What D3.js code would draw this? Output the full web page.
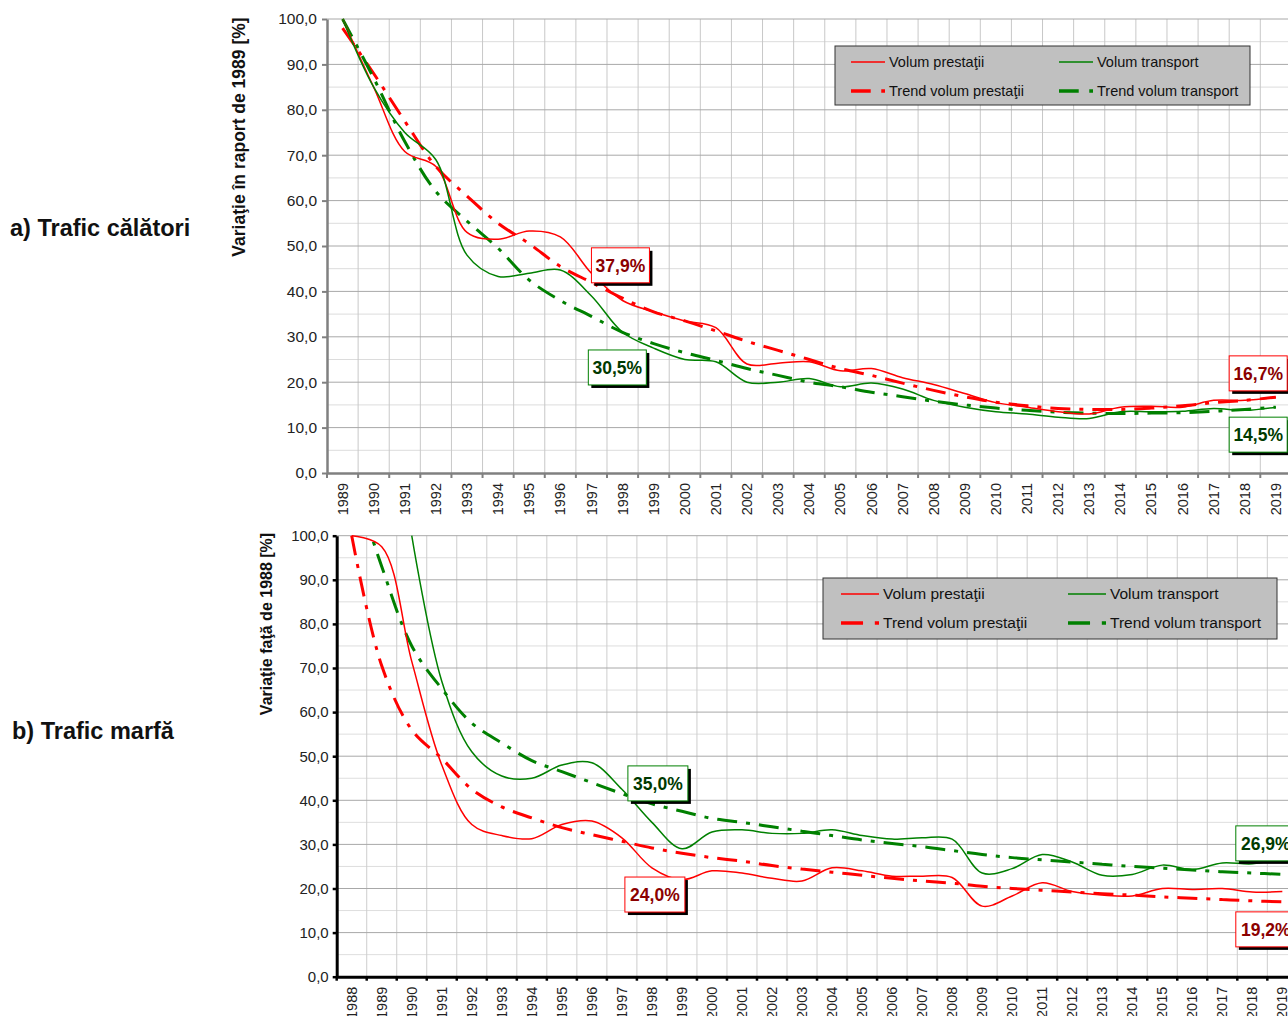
<!DOCTYPE html>
<html>
<head>
<meta charset="utf-8">
<script src="https://cdn.jsdelivr.net/npm/d3@7/dist/d3.min.js"></script>
<style>
  body { margin: 0; background: #fff; }
  svg { font-family: "Liberation Sans", Arial, sans-serif; display: block; }
</style>
</head>
<body>
<div id="chart"></div>
<script>
// a) Trafic calatori, 1989 = 100
const yearsA = [1989, 1990, 1991, 1992, 1993, 1994, 1995, 1996, 1997, 1998, 1999, 2000, 2001, 2002, 2003, 2004,
                2005, 2006, 2007, 2008, 2009, 2010, 2011, 2012, 2013, 2014, 2015, 2016, 2017, 2018, 2019];
const prestatiiA = [100, 85, 70.8, 67.5, 53, 51.5, 53.3, 52, 44, 38, 35.5, 33.5, 32, 24, 24.2, 24.5,
                    22.5, 23, 21, 19.5, 17.5, 15.5, 14.5, 13.5, 13, 14.5, 14.7, 14.5, 16, 16, 16.7];
const transportA = [100, 85, 75, 69, 48, 43.3, 44, 44.7, 39, 31, 27.5, 25, 24.5, 20, 20, 20.8,
                    19, 19.8, 18.5, 16, 14.5, 13.5, 13, 12.3, 12, 13.5, 13.5, 13.6, 14.2, 13.8, 14.5];
const trendPrestatiiA = [98, 88, 77.5, 67.5, 61, 55, 50.5, 45.5, 42, 38.5, 35.5, 33.5, 31.3, 29, 27, 25,
                         23, 21.5, 19.8, 18.2, 16.8, 15.6, 14.8, 14.2, 14, 14, 14.3, 14.8, 15.5, 16, 16.7];
const trendTransportA = [100, 87, 73, 62, 55.5, 49.5, 42.5, 38, 34.5, 31, 28.5, 26.5, 24.8, 23, 21.5, 20,
                         19, 17.8, 16.8, 15.8, 15, 14.3, 13.8, 13.4, 13.2, 13.1, 13.2, 13.3, 13.6, 14, 14.5];

// b) Trafic marfa, 1988 = 100
const yearsB = [1988, 1989, 1990, 1991, 1992, 1993, 1994, 1995, 1996, 1997, 1998, 1999, 2000, 2001, 2002, 2003,
                2004, 2005, 2006, 2007, 2008, 2009, 2010, 2011, 2012, 2013, 2014, 2015, 2016, 2017, 2018, 2019];
const prestatiiB = [100, 97.5, 71.5, 48, 34.5, 32, 31.3, 34.5, 35.3, 31.5, 24.7, 22, 24, 23.5, 22.3, 21.7,
                    24.7, 24, 22.8, 22.8, 22.5, 16, 18.3, 21.3, 19.3, 18.5, 18.3, 20, 19.8, 20, 19.2, 19.3];
const transportB = [null, null, 100, 67, 51, 45.5, 45, 48, 48.5, 42.5, 35, 29, 32.8, 33.3, 32.5, 32.5,
                    33.3, 32, 31.2, 31.5, 31.2, 23.5, 24.5, 27.7, 26, 23, 23.2, 25.3, 24.3, 25.8, 25.6, 26.9];
const trendPrestatiiB = [100, 70.5, 56, 49.5, 42.5, 38.5, 36, 33.8, 32.2, 30.7, 29.2, 28, 27, 26.2, 25.2, 24.4,
                         23.7, 23, 22.3, 21.7, 21.2, 20.5, 20, 19.6, 19.2, 18.8, 18.5, 18.1, 17.8, 17.5, 17.2, 17];
const trendTransportB = [114, 93, 75, 65.3, 57.5, 53, 49, 46.5, 44, 41.5, 39.2, 37.5, 35.9, 35, 34, 33,
                         32, 31, 30.2, 29.5, 28.6, 27.7, 27, 26.5, 26, 25.5, 25, 24.6, 24.2, 23.8, 23.5, 23.2];

const legendNames = ["Volum prestaţii", "Volum transport", "Trend volum prestaţii", "Trend volum transport"];

const labelsA = [
  { text: "37,9%", year: 1997.0, value: 49.6, kind: "p" },
  { text: "30,5%", year: 1996.9, value: 27.1, kind: "t" },
  { text: "16,7%", year: 2017.5, value: 25.8, kind: "p" },
  { text: "14,5%", year: 2017.5, value: 12.3, kind: "t" }
];
const labelsB = [
  { text: "35,0%", year: 1997.2, value: 47.8, kind: "t" },
  { text: "24,0%", year: 1997.1, value: 22.6, kind: "p" },
  { text: "26,9%", year: 2017.45, value: 34.2, kind: "t" },
  { text: "19,2%", year: 2017.45, value: 14.7, kind: "p" }
];

const RED = "#ff0000", GREEN = "#008000";
const fmt = v => d3.format(".1f")(v).replace(".", ",");

const svg = d3.select("#chart").append("svg")
  .attr("width", 1288).attr("height", 1016);

function panel(cfg) {
  const g = svg.append("g");
  const n = cfg.years.length;
  const x = d3.scaleBand().domain(cfg.years).range([cfg.left, cfg.left + n * cfg.step]).padding(0);
  const y = d3.scaleLinear().domain([0, 100]).range([cfg.bottom, cfg.top]);
  const right = cfg.left + n * cfg.step;
  const xc = yr => x(cfg.years[0]) + (yr - cfg.years[0] + 0.5) * x.step();

  // grid
  const grid = g.append("g");
  grid.selectAll(".minor").data(d3.range(5, 100, 10)).enter().append("line")
    .attr("x1", cfg.left).attr("x2", right)
    .attr("y1", d => y(d)).attr("y2", d => y(d))
    .attr("stroke", cfg.minorColor).attr("stroke-width", 1);
  grid.selectAll(".vert").data(cfg.years.slice(1)).enter().append("line")
    .attr("x1", d => x(d)).attr("x2", d => x(d))
    .attr("y1", cfg.top).attr("y2", cfg.bottom)
    .attr("stroke", cfg.vertColor).attr("stroke-width", 1);
  grid.selectAll(".major").data(d3.range(10, 101, 10)).enter().append("line")
    .attr("x1", cfg.left).attr("x2", right)
    .attr("y1", d => y(d)).attr("y2", d => y(d))
    .attr("stroke", cfg.majorColor).attr("stroke-width", 1);

  // series
  const clipId = "clip" + cfg.id;
  g.append("clipPath").attr("id", clipId).append("rect")
    .attr("x", cfg.left).attr("y", cfg.top - 1)
    .attr("width", right - cfg.left).attr("height", cfg.bottom - cfg.top + 1);
  const lines = g.append("g").attr("clip-path", `url(#${clipId})`);
  const line = d3.line()
    .defined(d => d.v != null)
    .x(d => x(d.yr) + x.bandwidth() / 2)
    .y(d => y(d.v))
    .curve(d3.curveCatmullRom.alpha(0.5));
  const pts = arr => cfg.years.map((yr, i) => ({ yr, v: arr[i] }));

  const series = [
    { data: cfg.trendP, color: RED, dash: true },
    { data: cfg.trendT, color: GREEN, dash: true },
    { data: cfg.prest, color: RED, dash: false },
    { data: cfg.trans, color: GREEN, dash: false }
  ];
  series.forEach(s => {
    lines.append("path")
      .attr("d", line(pts(s.data)))
      .attr("fill", "none")
      .attr("stroke", s.color)
      .attr("stroke-width", s.dash ? 3 : 1.5)
      .attr("stroke-dasharray", s.dash ? "20,9,4,9" : null);
  });

  // axes
  const yAxis = g.append("g")
    .attr("transform", `translate(${cfg.left},0)`)
    .call(d3.axisLeft(y).tickValues(d3.range(0, 101, 10)).tickFormat(fmt)
      .tickSize(cfg.tickLen).tickPadding(cfg.tickPad).tickSizeOuter(0));
  yAxis.select(".domain").attr("stroke", cfg.axisColor).attr("stroke-width", cfg.axisWidth);
  yAxis.selectAll(".tick line").attr("stroke", cfg.axisColor).attr("stroke-width", cfg.axisWidth - 0.5);
  yAxis.selectAll(".tick text").attr("font-size", cfg.yFont).attr("fill", "#222")
    .style("font-family", "'Liberation Sans', Arial, sans-serif");

  const xAxis = g.append("g")
    .attr("transform", `translate(0,${cfg.bottom})`)
    .call(d3.axisBottom(x).tickSize(0).tickSizeOuter(0));
  xAxis.select(".domain").attr("stroke", cfg.axisColor).attr("stroke-width", cfg.axisWidth);
  xAxis.selectAll(".tick text")
    .attr("transform", "rotate(-90)")
    .attr("x", -10).attr("y", 0).attr("dy", "0.35em")
    .attr("text-anchor", "end")
    .attr("font-size", 14.5).attr("fill", "#222")
    .style("font-family", "'Liberation Sans', Arial, sans-serif");
  xAxis.selectAll(".bound").data(cfg.years).enter().append("line")
    .attr("x1", d => x(d)).attr("x2", d => x(d))
    .attr("y1", 0).attr("y2", cfg.tickLen)
    .attr("stroke", cfg.axisColor).attr("stroke-width", cfg.axisWidth - 0.5);

  // y title
  g.append("text")
    .attr("transform", `translate(${cfg.titleX},${cfg.titleY}) rotate(-90)`)
    .attr("text-anchor", "middle")
    .attr("font-size", cfg.titleFont).attr("font-weight", "bold").attr("fill", "#111")
    .text(cfg.title);

  // side caption
  g.append("text")
    .attr("x", cfg.capX).attr("y", cfg.capY)
    .attr("font-size", 23.5).attr("font-weight", "bold").attr("fill", "#111")
    .text(cfg.caption);

  // legend
  const L = cfg.legend;
  const lg = g.append("g");
  lg.append("rect").attr("x", L.x).attr("y", L.y).attr("width", L.w).attr("height", L.h)
    .attr("fill", "#c0c0c0").attr("stroke", "#333").attr("stroke-width", 1);
  const cols = [L.col1, L.col2];
  const rows = [L.row1, L.row2];
  legendNames.forEach((name, i) => {
    const c = cols[i % 2], r = rows[Math.floor(i / 2)];
    const color = i % 2 === 0 ? RED : GREEN;
    if (i < 2) {
      lg.append("line").attr("x1", c).attr("x2", c + L.sample).attr("y1", r).attr("y2", r)
        .attr("stroke", color).attr("stroke-width", 1.5);
    } else {
      lg.append("line").attr("x1", c).attr("x2", c + L.sample).attr("y1", r).attr("y2", r)
        .attr("stroke", color).attr("stroke-width", 3.5)
        .attr("stroke-dasharray", `${L.sample * 0.58},${L.sample * 0.31},${L.sample * 0.11},40`);
    }
    lg.append("text").attr("x", c + L.sample + 4).attr("y", r).attr("dy", "0.35em")
      .attr("font-size", L.font).attr("fill", "#111").text(name);
  });

  // value labels
  cfg.labels.forEach(d => {
    const bx = xc(d.year), by = y(d.value);
    const border = d.kind === "p" ? RED : GREEN;
    const ink = d.kind === "p" ? "#8b0000" : "#003a00";
    g.append("rect").attr("x", bx + 3).attr("y", by + 3).attr("width", cfg.boxW).attr("height", cfg.boxH)
      .attr("fill", "#000");
    g.append("rect").attr("x", bx).attr("y", by).attr("width", cfg.boxW).attr("height", cfg.boxH)
      .attr("fill", "#fff").attr("stroke", border).attr("stroke-width", 1);
    g.append("text").attr("x", bx + cfg.boxW / 2).attr("y", by + cfg.boxH / 2).attr("dy", "0.36em")
      .attr("text-anchor", "middle").attr("font-size", 17.5).attr("font-weight", "bold")
      .attr("fill", ink).text(d.text);
  });
}

panel({
  id: "A", years: yearsA,
  prest: prestatiiA, trans: transportA, trendP: trendPrestatiiA, trendT: trendTransportA,
  left: 327, step: 31.11, top: 19, bottom: 473,
  majorColor: "#a8a8a8", minorColor: "#dcdcdc", vertColor: "#c8c8c8",
  axisColor: "#808080", axisWidth: 2.5, tickLen: 5, tickPad: 5, yFont: 15.5,
  title: "Variaţie în raport de 1989 [%]", titleX: 245, titleY: 137, titleFont: 17.5,
  caption: "a) Trafic călători", capX: 10, capY: 236,
  legend: { x: 835, y: 46, w: 415, h: 59, col1: 851, col2: 1059, row1: 62, row2: 91, sample: 34, font: 14.5 },
  labels: labelsA, boxW: 58, boxH: 35
});

panel({
  id: "B", years: yearsB,
  prest: prestatiiB, trans: transportB, trendP: trendPrestatiiB, trendT: trendTransportB,
  left: 336.7, step: 30.02, top: 535.7, bottom: 976.7,
  majorColor: "#a8a8a8", minorColor: "#dedede", vertColor: "#cdcdcd",
  axisColor: "#000", axisWidth: 3, tickLen: 4, tickPad: 4, yFont: 15,
  title: "Variaţie faţă de 1988 [%]", titleX: 272, titleY: 624, titleFont: 16,
  caption: "b) Trafic marfă", capX: 12, capY: 739,
  legend: { x: 823, y: 578, w: 454, h: 61, col1: 841, col2: 1068, row1: 594, row2: 623, sample: 38, font: 15.5 },
  labels: labelsB, boxW: 60, boxH: 35
});
</script>
</body>
</html>
